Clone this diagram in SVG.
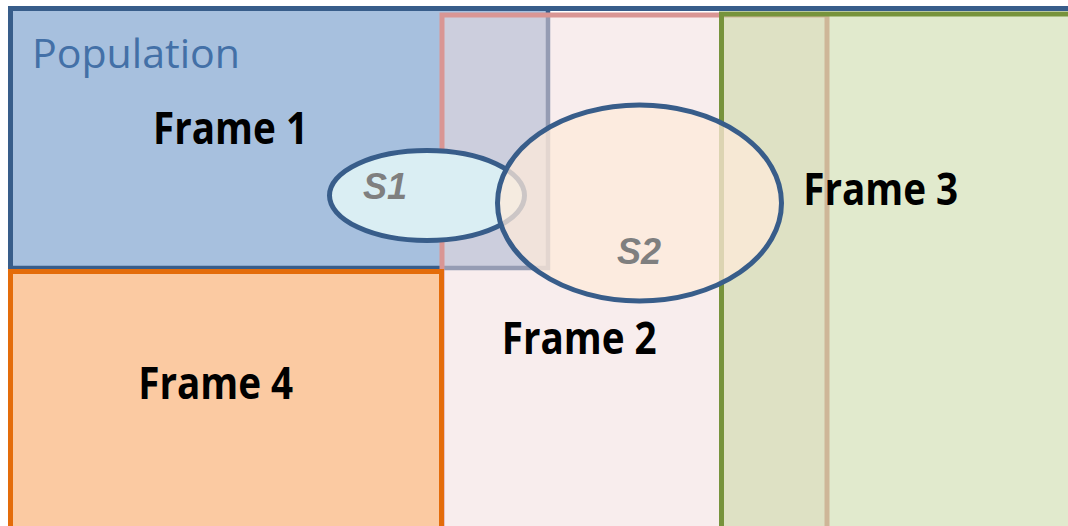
<svg xmlns="http://www.w3.org/2000/svg" width="1068" height="526" viewBox="0 0 1068 526">
<style>
.lbl{font-family:"Open Sans","Liberation Sans",sans-serif;font-weight:bold;font-size:44px;fill:#000;text-anchor:middle}
.samp{font-family:"Liberation Sans","DejaVu Sans",sans-serif;font-weight:bold;font-style:italic;font-size:36px;fill:#7f7f7f;text-anchor:middle}
.pop{font-family:"Open Sans","Liberation Sans",sans-serif;font-size:41px;fill:#4370a7}
</style>
<rect width="1068" height="526" fill="#ffffff"/>
<g id="frame1">
<rect x="10.5" y="8.5" width="537.5" height="259.5" fill="#4F81BD" fill-opacity="0.5" stroke="#385D8A" stroke-width="4.5"/>
<text class="lbl" x="230.5" y="143.5" textLength="155" lengthAdjust="spacingAndGlyphs">Frame 1</text>
</g>
<g id="frame2">
<rect x="442" y="15" width="385" height="530" fill="#F2DCDB" fill-opacity="0.5" stroke="#D99694" stroke-width="5"/>
<text class="lbl" x="579.2" y="353.5" textLength="155" lengthAdjust="spacingAndGlyphs">Frame 2</text>
</g>
<g id="frame3">
<rect x="721.5" y="14" width="400" height="530" fill="#C3D69B" fill-opacity="0.5" stroke="#77933C" stroke-width="5"/>
<text class="lbl" x="880.7" y="204.5" textLength="155" lengthAdjust="spacingAndGlyphs">Frame 3</text>
</g>
<g id="population">
<rect x="10.5" y="8.5" width="1080" height="540" fill="none" stroke="#385D8A" stroke-width="5"/>
<text class="pop" x="32" y="68" textLength="208" lengthAdjust="spacingAndGlyphs">Population</text>
</g>
<g id="frame4">
<rect x="10.5" y="271.5" width="431" height="275" fill="#F79646" fill-opacity="0.5" stroke="#E46C0A" stroke-width="5"/>
<text class="lbl" x="215.7" y="398.5" textLength="155" lengthAdjust="spacingAndGlyphs">Frame 4</text>
</g>
<g id="s1">
<ellipse cx="427" cy="195.5" rx="97.5" ry="45" fill="#DAEEF3" stroke="#385D8A" stroke-width="5"/>
<text class="samp" x="385" y="199">S1</text>
</g>
<g id="s2">
<ellipse cx="639.5" cy="203" rx="142" ry="98" fill="#FDEADA" fill-opacity="0.75" stroke="#385D8A" stroke-width="5"/>
<text class="samp" x="639" y="264">S2</text>
</g>
</svg>
